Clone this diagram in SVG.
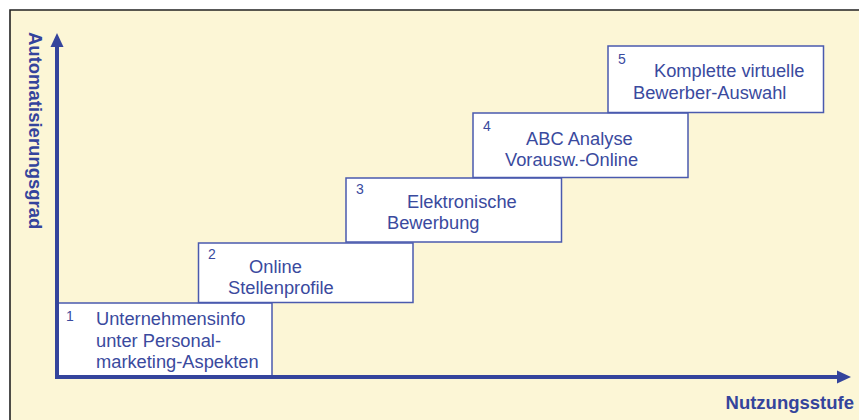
<svg xmlns="http://www.w3.org/2000/svg" width="859" height="420" viewBox="0 0 859 420">
<style>
.box{fill:#ffffff;stroke:#4a5aae;stroke-width:1.5}
.t{font-family:"Liberation Sans",Arial,sans-serif;font-size:18.3px;fill:#3a4a9e}
.n{font-family:"Liberation Sans",Arial,sans-serif;font-size:14px;fill:#3a4a9e}
.ax{font-family:"Liberation Sans",Arial,sans-serif;font-size:18.5px;font-weight:bold;fill:#34449c}
.axis{stroke:#34449c;stroke-width:4;fill:none}
</style>
<rect x="0" y="0" width="859" height="420" fill="#ffffff"/>
<rect x="10" y="10" width="849" height="410" fill="#fcf6d6"/>
<path d="M10,420 V10 H859" fill="none" stroke="#222" stroke-width="1.6"/>
<g id="step1">
<rect class="box" x="58" y="303" width="214" height="74"/>
<text class="n" x="66" y="321">1</text>
<text class="t" x="96" y="325">Unternehmensinfo</text>
<text class="t" x="96" y="347">unter Personal-</text>
<text class="t" x="96" y="368">marketing-Aspekten</text>
</g>
<g id="step2">
<rect class="box" x="198.5" y="243" width="214.5" height="59.5"/>
<text class="n" x="208" y="259">2</text>
<text class="t" x="249" y="273">Online</text>
<text class="t" x="228" y="294">Stellenprofile</text>
</g>
<g id="step3">
<rect class="box" x="346" y="178" width="215.5" height="64"/>
<text class="n" x="356" y="194">3</text>
<text class="t" x="407" y="208">Elektronische</text>
<text class="t" x="387" y="229">Bewerbung</text>
</g>
<g id="step4">
<rect class="box" x="473" y="113" width="215" height="64.5"/>
<text class="n" x="483" y="131">4</text>
<text class="t" x="526" y="145">ABC Analyse</text>
<text class="t" x="505" y="166">Vorausw.-Online</text>
</g>
<g id="step5">
<rect class="box" x="608" y="46" width="215.5" height="66.5"/>
<text class="n" x="618" y="64">5</text>
<text class="t" x="654" y="77">Komplette virtuelle</text>
<text class="t" x="633" y="99">Bewerber-Auswahl</text>
</g>
<g id="connectors">
<path class="axis" d="M57,46 V379"/>
<polygon points="57,33 50.5,47 63.5,47" fill="#34449c"/>
<path class="axis" d="M55,377 H838"/>
<polygon points="851,377 837,370.5 837,383.5" fill="#34449c"/>
</g>
<text class="ax" transform="translate(28.5,32) rotate(90)">Automatisierungsgrad</text>
<text class="ax" x="854" y="409" text-anchor="end">Nutzungsstufe</text>
</svg>
